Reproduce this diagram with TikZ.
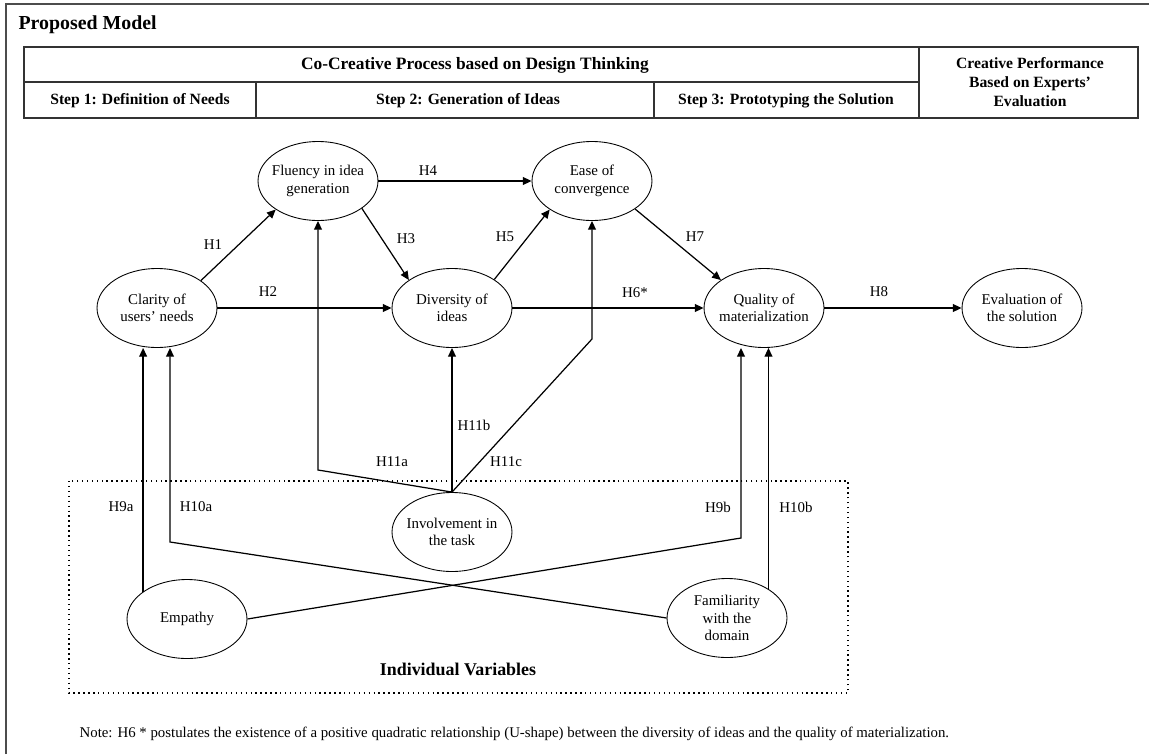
\documentclass[tikz,border=0pt]{standalone}
\usepackage{fontspec}
\setmainfont{Liberation Serif}
\usetikzlibrary{shapes.geometric,arrows.meta}

\tikzset{
  latent/.style={ellipse, draw, line width=0.5pt, minimum width=2.4cm, minimum height=1.58cm,
    inner sep=0pt, inner xsep=-5pt, align=center, font=\fontsize{8.5}{10}\selectfont},
  hyp/.style={font=\fontsize{8.5}{10}\selectfont, inner sep=0pt},
  cell/.style={font=\bfseries\fontsize{8.9}{10.8}\selectfont, align=center, inner sep=0pt},
  grid/.style={draw=black!80, line width=0.6pt},
}

\begin{document}
\begin{tikzpicture}[x=0.02cm, y=-0.02cm, >={Triangle[length=5pt,width=4.5pt]}, line width=0.7pt]
    \useasboundingbox (0,0) rectangle (1149,754);
    \draw[black!70, line width=1pt] (6,754) -- (6,4) -- (1149,4);

    % header table
    \node[anchor=west, font=\bfseries\fontsize{11.3}{13}\selectfont, inner sep=0pt] (title) at (18,25) {Proposed Model};
    \draw[grid] (24,47) rectangle (1138,118);
    \draw[grid] (24,82) -- (919,82) (919,47) -- (919,118) (256,82) -- (256,118) (654,82) -- (654,118);
    \node[cell, font=\bfseries\fontsize{9.9}{12}\selectfont] (process) at (475,65) {Co-Creative Process based on Design Thinking};
    \node[cell] (step1) at (140,101) {Step 1: Definition of Needs};
    \node[cell] (step2) at (468,101) {Step 2: Generation of Ideas};
    \node[cell] (step3) at (786,101) {Step 3: Prototyping the Solution};
    \node[cell] (perf)  at (1030,82) {Creative Performance\\Based on Experts'\\Evaluation};

    % constructs
    \node[latent] (clarity)     at (157,308) {Clarity of\\users' needs};
    \node[latent] (fluency)     at (318,181) {Fluency in idea\\generation};
    \node[latent] (diversity)   at (452,308) {Diversity of\\ideas};
    \node[latent] (ease)        at (592,181) {Ease of\\convergence};
    \node[latent] (quality)     at (764,308) {Quality of\\materialization};
    \node[latent] (evaluation)  at (1022,308) {Evaluation of\\the solution};
    \node[latent] (involvement) at (452,532) {Involvement in\\the task};
    \node[latent] (empathy)     at (187,619) {Empathy};
    \node[latent] (familiarity) at (727,618) {Familiarity\\with the\\domain};

    \draw[dotted, line width=0.8pt] (69,481) rectangle (848,693);
    \node[font=\bfseries\fontsize{10.2}{12}\selectfont, inner sep=0pt] (indiv) at (458,669) {Individual Variables};

    \coordinate (h9b)  at (741,538);
    \coordinate (h10a) at (170,542);
    \coordinate (h11a) at (318,470);
    \coordinate (h11c) at (592,339);

    \draw[->] (clarity.32) -- (fluency.214) node[hyp] at (213,245) {H1};
    \draw[->] (clarity.east) -- (diversity.west) node[hyp] at (268,292) {H2};
    \draw[->] (fluency.-32) -- (diversity.147) node[hyp] at (406,239) {H3};
    \draw[->] (fluency.east) -- (ease.west) node[hyp] at (428,171) {H4};
    \draw[->] (diversity.34) -- (ease.214) node[hyp] at (505,237) {H5};
    \draw[->] (diversity.east) -- (quality.west) node[hyp] at (635,293) {H6*};
    \draw[->] (ease.-33) -- (quality.147) node[hyp] at (695,237) {H7};
    \draw[->] (quality.east) -- (evaluation.west) node[hyp] at (879,292) {H8};

    \draw[->] (empathy.148) -- (empathy.148 |- clarity.south) node[hyp] at (121,507) {H9a};
    \draw[->] (familiarity.west) -- (h10a) -- (h10a |- clarity.south) node[hyp] at (196,507) {H10a};
    \draw[->] (empathy.east) -- (h9b) -- (h9b |- quality.south) node[hyp] at (718,507) {H9b};
    \draw[->] (familiarity.35) -- (familiarity.35 |- quality.south) node[hyp] at (796,507) {H10b};

    \draw[->] (involvement.north) -- (h11a) -- (h11a |- fluency.south) node[hyp] at (392,462) {H11a};
    \draw[->] (involvement.north) -- (diversity.south) node[hyp] at (474,425) {H11b};
    \draw[->] (involvement.north) -- (h11c) -- (h11c |- ease.south) node[hyp] at (506,462) {H11c};

    \node[anchor=west, font=\fontsize{8.45}{10}\selectfont, inner sep=0pt] (note) at (79,734)
      {Note: H6 * postulates the existence of a positive quadratic relationship (U-shape) between the diversity of ideas and the quality of materialization.};
\end{tikzpicture}
\end{document}
